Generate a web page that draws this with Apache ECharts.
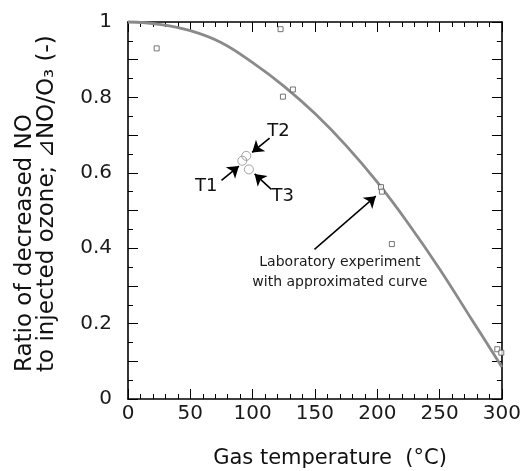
<!DOCTYPE html>
<html>
<head>
<meta charset="utf-8">
<script src="https://cdn.jsdelivr.net/npm/echarts@6/dist/echarts.min.js"></script>
<style>
html,body{margin:0;padding:0;background:#fff;}
#c{width:524px;height:471px;}
</style>
</head>
<body>
<div id="c"></div>
<script>
// ---- data ----
var curveT = [0, 25, 50, 75, 100, 125, 150, 175, 200, 225, 250, 275, 300];
var curveV = [1.0, 0.994, 0.977, 0.945, 0.892, 0.830, 0.757, 0.672, 0.575, 0.465, 0.345, 0.215, 0.085];

var labT = [23, 122.4, 124.3, 132.3, 203, 203.7, 211.7, 296.3, 299.5];
var labV = [0.930, 0.981, 0.802, 0.821, 0.562, 0.550, 0.411, 0.132, 0.123];

var testNames = ['T1', 'T2', 'T3'];
var testT = [91.7, 94.9, 97.0];
var testV = [0.632, 0.645, 0.609];

var xTicks = [0, 50, 100, 150, 200, 250, 300];
var yTickLabels = ['0', '0.2', '0.4', '0.6', '0.8', '1'];

var xTitle = 'Gas temperature  (°C)';
var yTitle1 = 'Ratio of decreased NO';
var yTitle2 = 'to injected ozone; \u22BFNO/O\u2083 (-)';
var labText = 'Laboratory experiment\nwith approximated curve';

// annotation anchors (data coordinates)
var testLabelPos = [[62.8, 0.565], [120.8, 0.711], [124.2, 0.537]];
var testArrowFrom = [[75.0, 0.580], [113.6, 0.692], [115.0, 0.556]];
var testArrowTo = [[89.0, 0.618], [99.6, 0.654], [101.6, 0.597]];
var labArrowFrom = [149.6, 0.397];
var labArrowTo = [198.8, 0.538];
var labTextPos = [170.0, 0.335];

function zip(a, b) { return a.map(function (v, i) { return [v, b[i]]; }); }

var FONT = 'DejaVu Sans';
var chart = echarts.init(document.getElementById('c'), null, {renderer: 'canvas'});

var axisLineStyle = {color: '#000', width: 1.6};
var tickStyle = {color: '#000', width: 1};

function yFmt(v) {
  var k = Math.round(v * 10);
  if (k % 2 !== 0) return '';
  return yTickLabels[k / 2];
}
function xFmt(v) {
  var i = xTicks.indexOf(Math.round(v));
  return i >= 0 ? String(xTicks[i]) : '';
}

var option = {
  animation: false,
  backgroundColor: '#fff',
  grid: {left: 128, right: 20, top: 22, bottom: 72, containLabel: false},
  xAxis: [
    {
      type: 'value', position: 'bottom', min: 0, max: 300, interval: 50,
      axisLine: {show: true, onZero: false, lineStyle: axisLineStyle},
      axisTick: {show: true, inside: true, length: 10, lineStyle: tickStyle},
      minorTick: {show: true, splitNumber: 5, length: 5, lineStyle: tickStyle},
      splitLine: {show: false},
      axisLabel: {show: true, formatter: xFmt, color: '#1a1a1a', fontFamily: FONT, fontSize: 20, margin: 5}
    },
    {
      type: 'value', position: 'top', min: 0, max: 300, interval: 50,
      axisLine: {show: true, onZero: false, lineStyle: axisLineStyle},
      axisTick: {show: true, inside: true, length: 10, lineStyle: tickStyle},
      minorTick: {show: true, splitNumber: 5, length: 5, lineStyle: tickStyle},
      splitLine: {show: false},
      axisLabel: {show: false}
    }
  ],
  yAxis: [
    {
      type: 'value', position: 'left', min: 0, max: 1, interval: 0.1,
      axisLine: {show: true, onZero: false, lineStyle: axisLineStyle},
      axisTick: {show: true, inside: true, length: 10, lineStyle: tickStyle},
      minorTick: {show: true, splitNumber: 2, length: 5, lineStyle: tickStyle},
      splitLine: {show: false},
      axisLabel: {show: true, formatter: yFmt, color: '#1a1a1a', fontFamily: FONT, fontSize: 20, margin: 16,
        showMinLabel: true, showMaxLabel: true}
    },
    {
      type: 'value', position: 'right', min: 0, max: 1, interval: 0.1,
      axisLine: {show: true, onZero: false, lineStyle: axisLineStyle},
      axisTick: {show: true, inside: true, length: 10, lineStyle: tickStyle},
      minorTick: {show: true, splitNumber: 2, length: 5, lineStyle: tickStyle},
      splitLine: {show: false},
      axisLabel: {show: false}
    }
  ],
  series: [
    {
      name: 'Approximated curve', type: 'line', xAxisIndex: 0, yAxisIndex: 0,
      data: zip(curveT, curveV), smooth: 0.4, showSymbol: false, symbol: 'none',
      lineStyle: {color: '#8a8a8a', width: 2.8}, z: 2, clip: false,
      markLine: {
        silent: true, symbol: ['none', 'arrow'], symbolSize: 11,
        lineStyle: {color: '#000', width: 1.5, type: 'solid'},
        itemStyle: {color: '#000'},
        label: {show: false},
        data: [[{coord: labArrowFrom}, {coord: labArrowTo}]]
      },
      markPoint: {
        silent: true, symbol: 'circle', symbolSize: 1,
        itemStyle: {color: 'rgba(0,0,0,0)'},
        label: {show: true, position: 'inside', color: '#1a1a1a', fontFamily: FONT, fontSize: 14, lineHeight: 20,
          formatter: function (p) { return p.name; }},
        data: [{name: labText, coord: labTextPos}]
      }
    },
    {
      name: 'Laboratory experiment', type: 'scatter', xAxisIndex: 0, yAxisIndex: 0,
      data: zip(labT, labV), symbol: 'rect', symbolSize: 5,
      itemStyle: {color: '#fff', borderColor: '#555', borderWidth: 1}, z: 3
    },
    {
      name: 'Tests', type: 'scatter', xAxisIndex: 0, yAxisIndex: 0,
      data: zip(testT, testV), symbol: 'circle', symbolSize: 9,
      itemStyle: {color: 'rgba(255,255,255,0)', borderColor: '#8c8c8c', borderWidth: 1}, z: 3,
      markLine: {
        silent: true, symbol: ['none', 'arrow'], symbolSize: 11,
        lineStyle: {color: '#000', width: 1.6, type: 'solid'},
        itemStyle: {color: '#000'},
        label: {show: false},
        data: testArrowFrom.map(function (f, i) { return [{coord: f}, {coord: testArrowTo[i]}]; })
      },
      markPoint: {
        silent: true, symbol: 'circle', symbolSize: 1,
        itemStyle: {color: 'rgba(0,0,0,0)'},
        label: {show: true, position: 'inside', color: '#111', fontFamily: FONT, fontSize: 18,
          formatter: function (p) { return p.name; }},
        data: testNames.map(function (n, i) { return {name: n, coord: testLabelPos[i]}; })
      }
    }
  ],
  graphic: [
    {type: 'text', x: 25, y: 372, rotation: Math.PI / 2,
      style: {text: yTitle1, font: '23px "' + FONT + '"', fill: '#111',
        align: 'left', verticalAlign: 'middle', textAlign: 'left', textVerticalAlign: 'middle'}},
    {type: 'text', x: 47, y: 372, rotation: Math.PI / 2,
      style: {text: yTitle2, font: '23px "' + FONT + '"', fill: '#111',
        align: 'left', verticalAlign: 'middle', textAlign: 'left', textVerticalAlign: 'middle'}},
    {type: 'text', x: 330, y: 459,
      style: {text: xTitle, font: '21px "' + FONT + '"', fill: '#111',
        align: 'center', verticalAlign: 'middle', textAlign: 'center', textVerticalAlign: 'middle'}}
  ]
};
chart.setOption(option);
</script>
</body>
</html>
